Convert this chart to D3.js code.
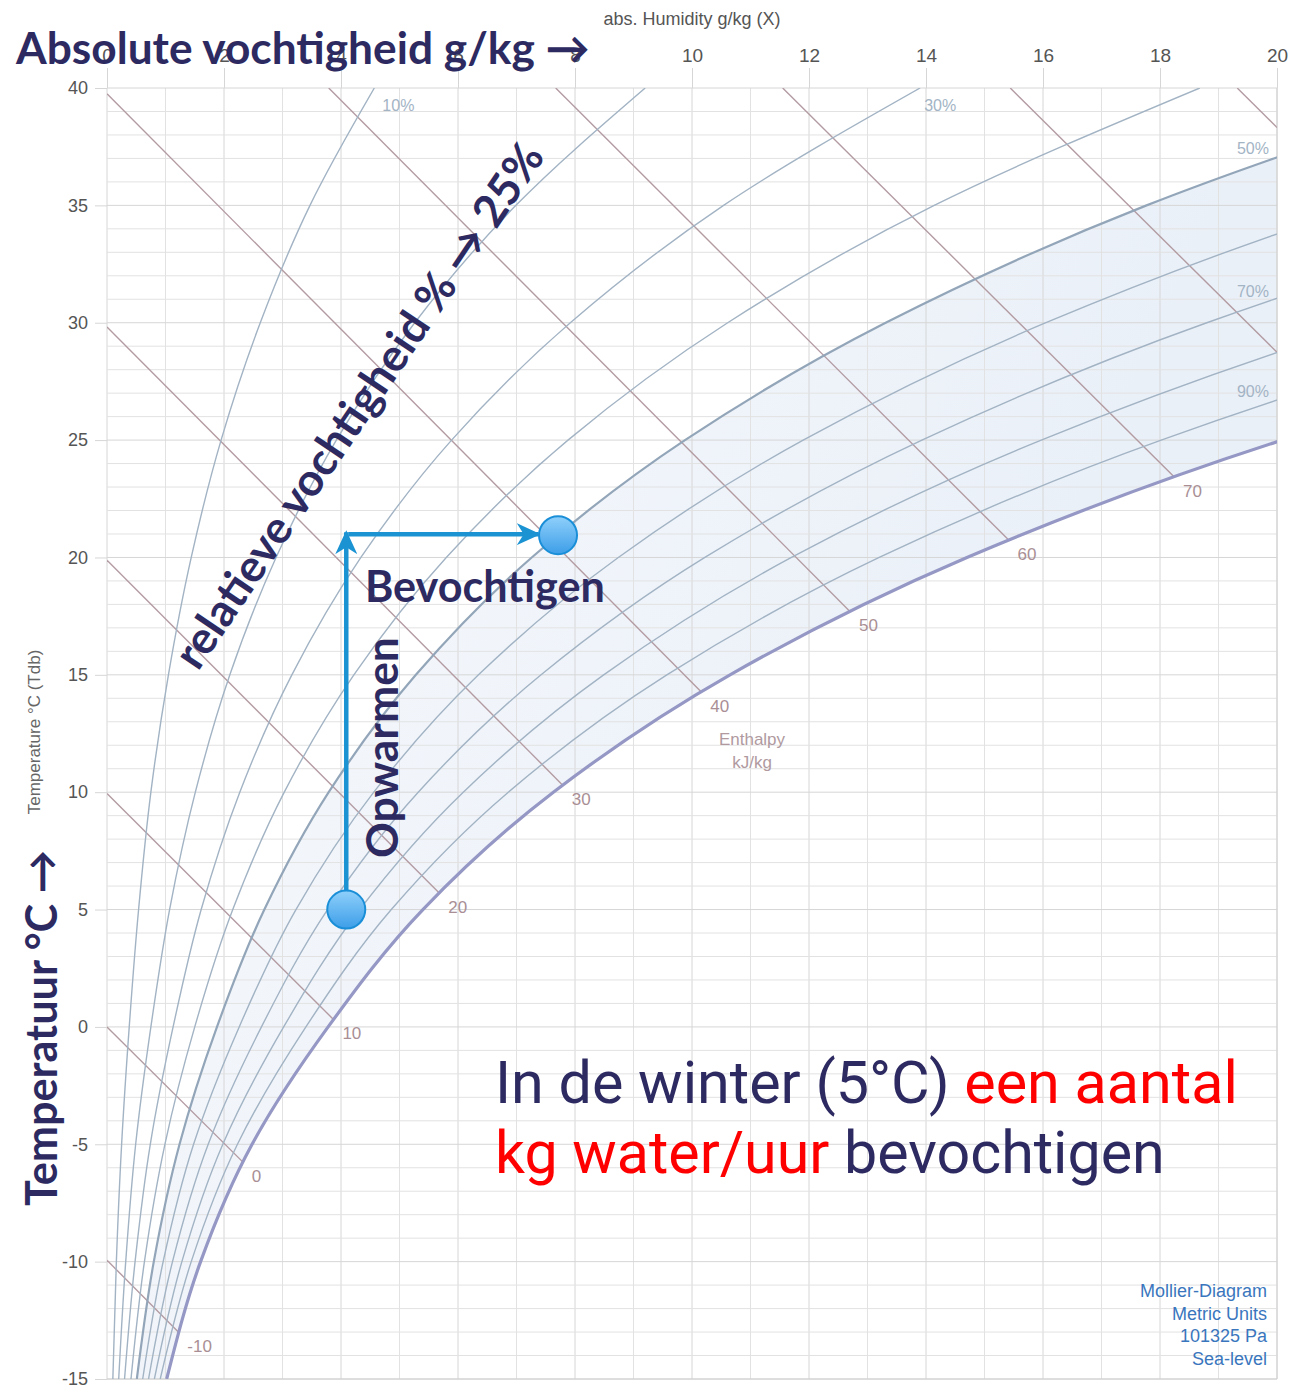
<!DOCTYPE html>
<html>
<head>
<meta charset="utf-8">
<script src="https://cdn.jsdelivr.net/npm/d3@7"></script>
<style>
  body { margin: 0; background: #fff; }
  svg { display: block; }
</style>
</head>
<body>
<div id="chart"></div>
<script>
// Temperatures (°C) at which the relative humidity curves are read
const temps = [-15, -10, -5, 0, 5, 10, 15, 20, 25, 30, 35, 40];

// absolute humidity g/kg of each RH curve, at the temps above
const rh10  = [0.10, 0.16, 0.25, 0.38, 0.54, 0.75, 1.05, 1.44, 1.95, 2.62, 3.47, 4.57];
const rh20  = [0.20, 0.32, 0.49, 0.75, 1.07, 1.51, 2.10, 2.89, 3.92, 5.26, 6.99, 9.20];
const rh30  = [0.30, 0.48, 0.74, 1.13, 1.61, 2.27, 3.16, 4.34, 5.89, 7.92, 10.54, 13.90];
const rh40  = [0.41, 0.64, 0.99, 1.50, 2.15, 3.03, 4.22, 5.80, 7.88, 10.61, 14.14, 18.68];
const rh50  = [0.51, 0.80, 1.24, 1.88, 2.69, 3.79, 5.28, 7.26, 9.88, 13.31, 17.77, 23.52];
const rh60  = [0.61, 0.96, 1.48, 2.26, 3.23, 4.56, 6.35, 8.74, 11.90, 16.05, 21.45, 28.44];
const rh70  = [0.71, 1.12, 1.73, 2.64, 3.77, 5.32, 7.42, 10.22, 13.93, 18.80, 25.17, 33.44];
const rh80  = [0.81, 1.28, 1.98, 3.02, 4.32, 6.09, 8.49, 11.70, 15.97, 21.58, 28.93, 38.51];
const rh90  = [0.91, 1.44, 2.23, 3.40, 4.86, 6.86, 9.57, 13.20, 18.02, 24.38, 32.73, 43.66];
const rh100 = [1.02, 1.60, 2.48, 3.78, 5.40, 7.63, 10.65, 14.70, 20.09, 27.21, 36.58, 48.89];

const rhLevels = [10, 20, 30, 40, 50, 60, 70, 80, 90, 100];
const rhSeries = [rh10, rh20, rh30, rh40, rh50, rh60, rh70, rh80, rh90, rh100];

// constant enthalpy lines (kJ/kg): start and end as [g/kg, °C]
const enthalpyValues = [-10, 0, 10, 20, 30, 40, 50, 60, 70, 80, 90];
const enthalpyStart = [[0, -9.94], [0, 0], [0, 9.94], [0, 19.88], [0, 29.82], [0, 39.76],
                       [3.79, 40], [7.67, 40], [11.55, 40], [15.44, 40], [19.32, 40]];
const enthalpyEnd = [[1.22, -13.0], [2.32, -5.75], [3.87, 0.32], [5.68, 5.7], [7.79, 10.3], [10.16, 14.27],
                     [12.70, 17.7], [15.41, 20.75], [18.24, 23.44], [20, 28.74], [20, 38.32]];

// axis ticks
const xTicks = [0, 2, 4, 6, 8, 10, 12, 14, 16, 18, 20];
const yTicks = [-15, -10, -5, 0, 5, 10, 15, 20, 25, 30, 35, 40];

// process: winter air 5°C heated, then humidified
const processX = [4.09, 7.71];
const processT = [5, 20.95];

const width = 1291, height = 1389;
const navy = "#2d2a62";

const svg = d3.select("#chart").append("svg")
  .attr("width", width)
  .attr("height", height);

const x = d3.scaleLinear().domain([0, 20]).range([107, 1277]);
const y = d3.scaleLinear().domain([-15, 40]).range([1379, 88]);

const defs = svg.append("defs");
defs.append("clipPath").attr("id", "plotclip")
  .append("rect")
    .attr("x", x(0)).attr("y", y(40))
    .attr("width", x(20) - x(0)).attr("height", y(-15) - y(40));

// shading between 50% and saturation, a bit stronger near saturation
const shade = defs.append("linearGradient")
  .attr("id", "shade").attr("gradientUnits", "userSpaceOnUse")
  .attr("x1", x(4)).attr("y1", y(32)).attr("x2", x(16)).attr("y2", y(18));
shade.append("stop").attr("offset", "0%").attr("stop-color", "#f5f8fc");
shade.append("stop").attr("offset", "100%").attr("stop-color", "#eaf0f8");

const rhRows = temps.map((t, i) => ({t, lo: rh50[i], hi: rh100[i]}));
svg.append("path")
  .datum(rhRows)
  .attr("clip-path", "url(#plotclip)")
  .attr("fill", "url(#shade)")
  .attr("d", d3.area().curve(d3.curveMonotoneY)
    .y(d => y(d.t)).x0(d => x(d.lo)).x1(d => x(d.hi)));

// grid
const grid = svg.append("g");
grid.selectAll(".vg")
  .data(d3.range(0, 21))
  .join("line")
    .attr("x1", d => x(d)).attr("x2", d => x(d))
    .attr("y1", y(40)).attr("y2", y(-15))
    .attr("stroke", d => d % 2 === 0 ? "#d6d6d6" : "#e2e2e2")
    .attr("stroke-width", 1);
grid.selectAll(".hg")
  .data(d3.range(-15, 41))
  .join("line")
    .attr("x1", x(0)).attr("x2", x(20))
    .attr("y1", d => y(d)).attr("y2", d => y(d))
    .attr("stroke", d => d % 5 === 0 ? "#d6d6d6" : "#e2e2e2")
    .attr("stroke-width", 1);

// axes
const axTop = svg.append("g")
  .attr("transform", `translate(0,${y(40)})`)
  .call(d3.axisTop(x).tickValues(xTicks).tickSize(20).tickPadding(6).tickFormat(d => String(d)))
  .call(g => g.select(".domain").remove());
axTop.selectAll(".tick line").attr("stroke", "#d6d6d6");
axTop.selectAll(".tick text")
  .attr("font-family", "Liberation Sans, Arial, sans-serif")
  .attr("font-size", 19).attr("fill", "#555");

const axLeft = svg.append("g")
  .attr("transform", `translate(${x(0)},0)`)
  .call(d3.axisLeft(y).tickValues(yTicks).tickSize(12).tickPadding(7).tickFormat(d => String(d)))
  .call(g => g.select(".domain").remove());
axLeft.selectAll(".tick line").attr("stroke", "#d6d6d6");
axLeft.selectAll(".tick text")
  .attr("font-family", "Liberation Sans, Arial, sans-serif")
  .attr("font-size", 18).attr("fill", "#555");

svg.append("text")
  .attr("x", x(10)).attr("y", 25)
  .attr("text-anchor", "middle")
  .attr("font-family", "Liberation Sans, Arial, sans-serif")
  .attr("font-size", 18).attr("fill", "#555")
  .text("abs. Humidity g/kg (X)");

svg.append("text")
  .attr("transform", "translate(40,732) rotate(-90)")
  .attr("text-anchor", "middle")
  .attr("font-family", "Liberation Sans, Arial, sans-serif")
  .attr("font-size", 17).attr("fill", "#666")
  .text("Temperature °C (Tdb)");

// plot frame (right + bottom)
svg.append("path")
  .attr("d", `M${x(20)},${y(40)}V${y(-15)}H${x(0)}`)
  .attr("fill", "none").attr("stroke", "#d0d0d0");

const plot = svg.append("g").attr("clip-path", "url(#plotclip)");

// enthalpy lines
plot.selectAll(".hline")
  .data(enthalpyValues)
  .join("line")
    .attr("x1", (d, i) => x(enthalpyStart[i][0]))
    .attr("y1", (d, i) => y(enthalpyStart[i][1]))
    .attr("x2", (d, i) => x(enthalpyEnd[i][0]))
    .attr("y2", (d, i) => y(enthalpyEnd[i][1]))
    .attr("stroke", "#b39ba2")
    .attr("stroke-width", 1.4);

// relative humidity curves
const rhLine = d3.line().curve(d3.curveMonotoneY)
  .x(d => x(d[0])).y(d => y(d[1]));
plot.selectAll(".rh")
  .data(rhSeries)
  .join("path")
    .attr("fill", "none")
    .attr("stroke", (d, i) => rhLevels[i] === 100 ? "#9597c4" : (rhLevels[i] === 50 ? "#93a6b9" : "#a2b3c4"))
    .attr("stroke-width", (d, i) => rhLevels[i] === 100 ? 3.2 : (rhLevels[i] === 50 ? 2.2 : 1.4))
    .attr("d", d => rhLine(d.map((v, i) => [v, temps[i]])));

// enthalpy labels
svg.selectAll(".hlab")
  .data(enthalpyValues.slice(0, 9))
  .join("text")
    .attr("x", (d, i) => x(enthalpyEnd[i][0]) + 9)
    .attr("y", (d, i) => y(enthalpyEnd[i][1]) + 20)
    .attr("font-family", "Liberation Sans, Arial, sans-serif")
    .attr("font-size", 17).attr("fill", "#a98f95")
    .text(d => d);

svg.append("text")
  .attr("font-family", "Liberation Sans, Arial, sans-serif")
  .attr("font-size", 17).attr("fill", "#b09aa0")
  .attr("text-anchor", "middle")
  .selectAll("tspan")
  .data(["Enthalpy", "kJ/kg"])
  .join("tspan")
    .attr("x", 752).attr("y", (d, i) => 745 + i * 23)
    .text(d => d);

// RH labels
const rhLabels = [
  {t: "10%", px: x(4.57) + 8, py: y(40) + 23, a: "start"},
  {t: "30%", px: x(13.90) + 4, py: y(40) + 23, a: "start"},
  {t: "50%", px: x(20) - 8, py: y(37.2) - 0, a: "end"},
  {t: "70%", px: x(20) - 8, py: y(31.0) - 2, a: "end"},
  {t: "90%", px: x(20) - 8, py: y(26.7) - 3, a: "end"}
];
svg.selectAll(".rhlab")
  .data(rhLabels)
  .join("text")
    .attr("x", d => d.px).attr("y", d => d.py)
    .attr("text-anchor", d => d.a)
    .attr("font-family", "Liberation Sans, Arial, sans-serif")
    .attr("font-size", 16).attr("fill", "#a3b4c5")
    .text(d => d.t);

// Mollier note
svg.append("text")
  .attr("font-family", "Liberation Sans, Arial, sans-serif")
  .attr("font-size", 18).attr("fill", "#3a76bd")
  .attr("text-anchor", "end")
  .selectAll("tspan")
  .data(["Mollier-Diagram", "Metric Units", "101325 Pa", "Sea-level"])
  .join("tspan")
    .attr("x", 1267).attr("y", (d, i) => 1297 + i * 22.5)
    .text(d => d);

// ---- process arrows and points
const blue = "#1b93d3";
defs.append("marker")
  .attr("id", "head")
  .attr("viewBox", "0 0 24 22")
  .attr("refX", 22).attr("refY", 11)
  .attr("markerWidth", 24).attr("markerHeight", 22)
  .attr("markerUnits", "userSpaceOnUse")
  .attr("orient", "auto")
  .append("path")
    .attr("d", "M0,0 L24,11 L0,22 L7,11 Z")
    .attr("fill", blue);

const grad = defs.append("linearGradient")
  .attr("id", "dot").attr("x1", 0).attr("y1", 0).attr("x2", 0).attr("y2", 1);
grad.append("stop").attr("offset", "0%").attr("stop-color", "#8fd0fb");
grad.append("stop").attr("offset", "100%").attr("stop-color", "#3d9ee8");

svg.append("line")
  .attr("x1", x(processX[0])).attr("y1", y(processT[0]))
  .attr("x2", x(processX[0])).attr("y2", y(processT[1]) - 3)
  .attr("stroke", blue).attr("stroke-width", 4.5)
  .attr("marker-end", "url(#head)");
svg.append("line")
  .attr("x1", x(processX[0]) + 2).attr("y1", y(processT[1]) - 1)
  .attr("x2", x(processX[1]) - 0.33 * (x(1) - x(0))).attr("y2", y(processT[1]) - 1)
  .attr("stroke", blue).attr("stroke-width", 4.5)
  .attr("marker-end", "url(#head)");

svg.selectAll(".pt")
  .data(processX)
  .join("circle")
    .attr("cx", d => x(d))
    .attr("cy", (d, i) => y(processT[i]))
    .attr("r", 19)
    .attr("fill", "url(#dot)")
    .attr("stroke", "#1a8fd8")
    .attr("stroke-width", 2);

// ---- overlay annotations
function fit(sel, target) {
  const len = sel.node().getComputedTextLength();
  const fs = parseFloat(sel.attr("font-size"));
  sel.attr("font-size", fs * target / len);
  return sel;
}
const bold = "Lato, 'Open Sans', sans-serif";

fit(svg.append("text")
  .attr("x", 16).attr("y", 64)
  .attr("font-family", bold).attr("font-weight", 700)
  .attr("font-size", 44).attr("fill", navy)
  .text("Absolute vochtigheid g/kg →"), 574);

fit(svg.append("text")
  .attr("transform", "translate(57,1206) rotate(-90)")
  .attr("font-family", bold).attr("font-weight", 700)
  .attr("font-size", 42).attr("fill", navy)
  .text("Temperatuur °C →"), 356);

fit(svg.append("text")
  .attr("transform", "translate(398,858) rotate(-90)")
  .attr("font-family", bold).attr("font-weight", 700)
  .attr("font-size", 40).attr("fill", navy)
  .text("Opwarmen"), 221);

fit(svg.append("text")
  .attr("x", 365).attr("y", 602)
  .attr("font-family", bold).attr("font-weight", 700)
  .attr("font-size", 40).attr("fill", navy)
  .text("Bevochtigen"), 240);

fit(svg.append("text")
  .attr("transform", "translate(198,672) rotate(-56)")
  .attr("font-family", bold).attr("font-weight", 700)
  .attr("font-size", 40).attr("fill", navy)
  .text("relatieve vochtigheid % → 25%"), 622);

const line1 = svg.append("text")
  .attr("x", 495).attr("y", 1103)
  .attr("font-family", "Roboto, sans-serif")
  .attr("font-size", 52).attr("fill", navy);
line1.append("tspan").text("In de winter (5°C) ");
line1.append("tspan").attr("fill", "#ff0000").text("een aantal");
fit(line1, 743);

const line2 = svg.append("text")
  .attr("x", 495).attr("y", 1173)
  .attr("font-family", "Roboto, sans-serif")
  .attr("font-size", 52).attr("fill", navy);
line2.append("tspan").attr("fill", "#ff0000").text("kg water/uur");
line2.append("tspan").text(" bevochtigen");
fit(line2, 670);
</script>
</body>
</html>
